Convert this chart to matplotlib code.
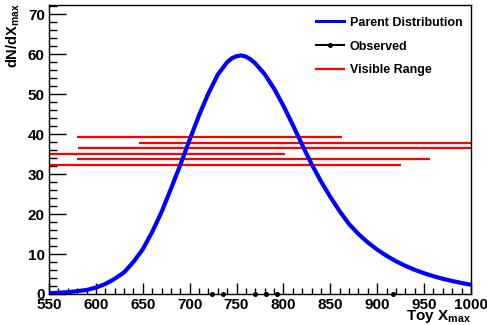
import numpy as np
import matplotlib
matplotlib.use("Agg")
import matplotlib.pyplot as plt
from matplotlib.ticker import MultipleLocator

plt.rcParams['font.family'] = ['Liberation Sans', 'DejaVu Sans']
plt.rcParams['font.weight'] = 'bold'

# --- Data ---
# parent distribution, sampled along X_max
xmax_grid = [550, 560, 570, 580, 590, 600, 610, 620, 630, 640, 650, 660, 670,
             680, 690, 700, 710, 720, 730, 740, 745, 750, 755, 760, 765, 770,
             780, 790, 800, 810, 820, 830, 840, 850, 860, 870, 880, 890, 900,
             910, 920, 930, 940, 950, 960, 970, 980, 990, 1000]
parent_pdf = [0.2, 0.3, 0.45, 0.7, 1.0, 1.6, 2.5, 3.8, 5.4, 8.0, 11.2, 15.5,
              20.5, 26.3, 32.3, 38.6, 44.7, 50.2, 54.9, 58.0, 59.0, 59.5, 59.7,
              59.4, 58.7, 57.7, 55.0, 51.4, 47.1, 42.3, 37.3, 32.5, 28.2, 24.3,
              20.7, 17.5, 15.0, 12.9, 11.1, 9.55, 8.2, 7.05, 6.05, 5.2, 4.45,
              3.8, 3.25, 2.75, 2.3]

# observed events
observed_x = [723.5, 735.2, 769.7, 781.4, 793.4, 917.1]

# visible range of each event (lo, hi) drawn at a height
range_lo = [579.5, 646.0, 581.2, 540.0, 579.5, 540.0]
range_hi = [862.1, 1010.0, 1010.0, 801.7, 956.3, 925.3]
range_y = [39.3, 37.9, 36.5, 35.1, 33.7, 32.25]

# --- Plot ---
fig = plt.figure(figsize=(4.87, 3.25), dpi=100)
ax = fig.add_axes([0.1006, 0.0954, 0.8665, 0.889])

for lo, hi, yv in zip(range_lo, range_hi, range_y):
    ax.plot([lo, hi], [yv, yv], color='#ff0000', lw=1.6, solid_capstyle='butt',
            zorder=2)

ax.plot(xmax_grid, parent_pdf, color='#0000ff', lw=3.0, zorder=3,
        solid_joinstyle='round')
ax.plot(observed_x, np.zeros(len(observed_x)), 'o', color='black',
        markersize=2.6, zorder=4, clip_on=False)

ax.set_xlim(550, 1000)
ax.set_ylim(0, 72.3)

ax.xaxis.set_major_locator(MultipleLocator(50))
ax.xaxis.set_minor_locator(MultipleLocator(10))
ax.yaxis.set_major_locator(MultipleLocator(10))
ax.yaxis.set_minor_locator(MultipleLocator(2))

ax.tick_params(axis='both', which='both', direction='in', top=False,
               right=False, labelsize=11, width=1.0, colors='black')
ax.tick_params(axis='x', which='major', length=8, pad=3)
ax.tick_params(axis='x', which='minor', length=4)
ax.tick_params(axis='y', which='major', length=12, pad=3)
ax.tick_params(axis='y', which='minor', length=6)
for lab in ax.get_xticklabels() + ax.get_yticklabels():
    lab.set_fontweight('bold')

for sp in ax.spines.values():
    sp.set_linewidth(1.0)

# axis titles, aligned to the axis ends
fig.text(0.967, 0.0, r'Toy X$_{\mathregular{max}}$', ha='right', va='bottom',
         fontsize=11, fontweight='bold')
fig.text(0.008, 0.99, r'dN/dX$_{\mathregular{max}}$', ha='left', va='top',
         rotation=90, fontsize=10.5, fontweight='bold')

# legend
h_parent, = ax.plot([], [], color='#0000ff', lw=2.2)
h_obs, = ax.plot([], [], color='black', lw=1.5, marker='o', markersize=2.6)
h_range, = ax.plot([], [], color='#ff0000', lw=1.6)
leg = ax.legend([h_parent, h_obs, h_range],
                ['Parent Distribution', 'Observed', 'Visible Range'],
                loc='upper right', bbox_to_anchor=(1.0, 0.99), frameon=False,
                borderaxespad=0.3, prop={'size': 9, 'weight': 'bold'},
                handlelength=2.2, handletextpad=0.45, labelspacing=0.95)

fig.savefig('out.png', dpi=100)
